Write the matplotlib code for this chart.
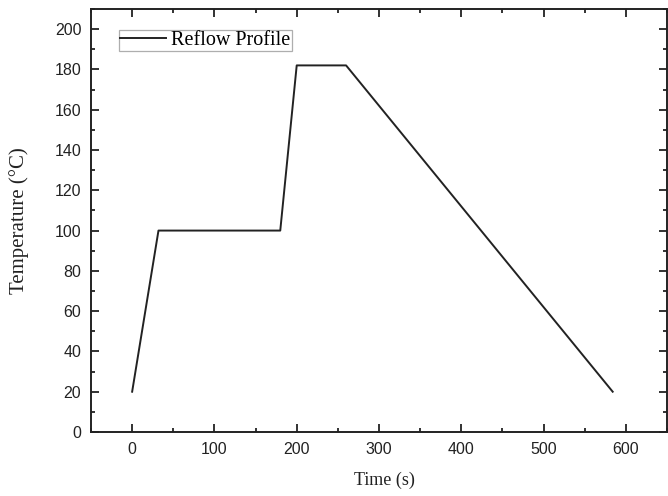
import matplotlib
matplotlib.use("Agg")
import matplotlib.pyplot as plt
from matplotlib.ticker import MultipleLocator

time_s = [0, 32, 180, 200, 260, 584]
temp_c = [20, 100, 100, 182, 182, 20]
x_ticks = [0, 100, 200, 300, 400, 500, 600]
y_ticks = [0, 20, 40, 60, 80, 100, 120, 140, 160, 180, 200]

fig = plt.figure(figsize=(6.68, 4.96), dpi=100)
ax = fig.add_axes([91/668, 1-432/496, (667-91)/668, (432-9)/496])
ax.plot(time_s, temp_c, color="#222222", lw=1.4, label="Reflow Profile")
ax.set_xlim(-50, 650)
ax.set_ylim(0, 210)
ax.set_xticks(x_ticks)
ax.set_yticks(y_ticks)
ax.xaxis.set_minor_locator(MultipleLocator(50))
ax.yaxis.set_minor_locator(MultipleLocator(10))
ax.tick_params(which="both", direction="in", top=True, right=True, width=1.3, color="#222222")
ax.tick_params(which="major", length=6, labelsize=11.5, labelcolor="#222222", pad=7)
ax.tick_params(which="minor", length=3)
for lab in ax.get_xticklabels() + ax.get_yticklabels():
    lab.set_family("Liberation Sans")
for s in ax.spines.values():
    s.set_linewidth(1.4)
    s.set_color("#222222")
ax.set_xlabel("Time (s)", family="Liberation Serif", fontsize=13, color="#222222")
ax.set_ylabel("Temperature (\u00b0C)", family="Liberation Serif", fontsize=15, color="#222222")
ax.xaxis.set_label_coords(0.51, -0.095)
ax.yaxis.set_label_coords(-0.108, 0.5)
leg = ax.legend(loc="upper left", bbox_to_anchor=(0.0486, 0.951), prop={"family": "Liberation Serif", "size": 14.5},
                frameon=True, fancybox=False, edgecolor="#9a9a9a", borderpad=0.05, handlelength=2.3,
                handletextpad=0.25, borderaxespad=0)
leg.get_frame().set_linewidth(0.9)
fig.savefig("out.png", dpi=100)
